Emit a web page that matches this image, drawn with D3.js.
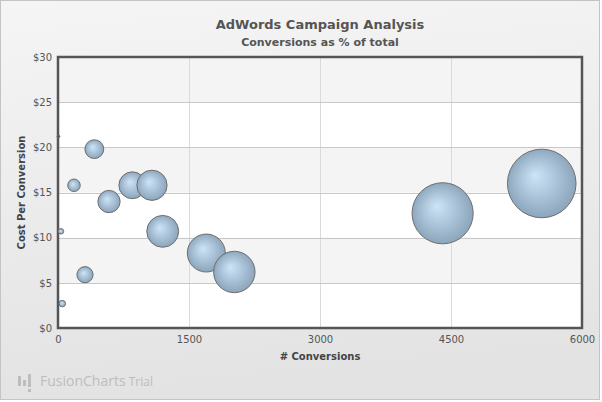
<!DOCTYPE html>
<html>
<head>
<meta charset="utf-8">
<script src="https://cdn.jsdelivr.net/npm/d3@7"></script>
<style>
  body { margin: 0; background: #fff; }
  text { font-family: 'DejaVu Sans', Verdana, sans-serif; }
</style>
</head>
<body>
<script>
// DATA
const conversions = [5, 416, 183, 851, 1076, 584, 34, 1199, 1698, 2019, 309, 49, 4404, 5539];
const costPerConversion = [21.2, 19.8, 15.8, 15.8, 15.8, 14.0, 10.7, 10.7, 8.3, 6.2, 5.9, 2.7, 12.7, 16.0];
const shareOfTotal = [0.05, 2.27, 1.0, 4.63, 5.86, 3.18, 0.19, 6.53, 9.25, 11.0, 1.68, 0.27, 24.0, 30.2];
const xTicks = [0, 1500, 3000, 4500, 6000];
const yTicks = [0, 5, 10, 15, 20, 25, 30];

const svgWidth = 602;
const svgHeight = 402;
const plotLeft = 58;
const plotRight = 582;
const plotTop = 57;
const plotBottom = 328;

const svg = d3
  .select('body')
  .append('svg')
  .attr('width', svgWidth)
  .attr('height', svgHeight);

const defs = svg.append('defs');

const bg = defs
  .append('linearGradient')
  .attr('id', 'bg')
  .attr('x1', 0)
  .attr('y1', 0)
  .attr('x2', 0.15)
  .attr('y2', 1);
bg.append('stop').attr('offset', '0%').attr('stop-color', '#f5f5f5');
bg.append('stop').attr('offset', '100%').attr('stop-color', '#e3e3e3');

const bubbleFill = defs
  .append('radialGradient')
  .attr('id', 'bubble')
  .attr('cx', '50%')
  .attr('cy', '50%')
  .attr('fx', '40%')
  .attr('fy', '38%')
  .attr('r', '55%');
bubbleFill.append('stop').attr('offset', '0%').attr('stop-color', '#cde5f8');
bubbleFill.append('stop').attr('offset', '100%').attr('stop-color', '#86a0b7');

// BACKGROUND
svg
  .append('rect')
  .attr('x', 0.5)
  .attr('y', 0.5)
  .attr('width', svgWidth - 3)
  .attr('height', svgHeight - 3)
  .attr('fill', 'url(#bg)')
  .attr('stroke', '#c4c4c4');

// SCALES
const xScale = d3.scaleLinear().domain([0, 6000]).range([plotLeft, plotRight]);
const yScale = d3.scaleLinear().domain([0, 30]).range([plotBottom, plotTop]);
const rScale = d3.scaleSqrt().domain([0, d3.max(shareOfTotal)]).range([0, 34.3]);

// PLOT BANDS
svg
  .append('rect')
  .attr('x', plotLeft)
  .attr('y', plotTop)
  .attr('width', plotRight - plotLeft)
  .attr('height', plotBottom - plotTop)
  .attr('fill', '#ffffff');

svg
  .selectAll('rect.band')
  .data(yTicks.slice(0, -1).filter((d, i) => i % 2 === 1))
  .enter()
  .append('rect')
  .attr('class', 'band')
  .attr('x', plotLeft)
  .attr('y', d => yScale(d + 5))
  .attr('width', plotRight - plotLeft)
  .attr('height', d => yScale(d) - yScale(d + 5))
  .attr('fill', '#f4f4f4');

// GRID
svg
  .selectAll('line.vgrid')
  .data(xTicks.slice(1, -1))
  .enter()
  .append('line')
  .attr('class', 'vgrid')
  .attr('x1', d => Math.round(xScale(d)) + 0.5)
  .attr('x2', d => Math.round(xScale(d)) + 0.5)
  .attr('y1', plotTop)
  .attr('y2', plotBottom)
  .attr('stroke', '#dadada');

svg
  .selectAll('line.hgrid')
  .data(yTicks.slice(1, -1))
  .enter()
  .append('line')
  .attr('class', 'hgrid')
  .attr('x1', plotLeft)
  .attr('x2', plotRight)
  .attr('y1', d => Math.round(yScale(d)) + 0.5)
  .attr('y2', d => Math.round(yScale(d)) + 0.5)
  .attr('stroke', '#c8c8c8');

// BORDER
svg
  .append('rect')
  .attr('x', plotLeft)
  .attr('y', plotTop)
  .attr('width', plotRight - plotLeft)
  .attr('height', plotBottom - plotTop)
  .attr('fill', 'none')
  .attr('stroke', '#555555')
  .attr('stroke-width', 2.5);

// AXES
const xAxis = d3
  .axisBottom(xScale)
  .tickValues(xTicks)
  .tickSize(0)
  .tickPadding(6)
  .tickFormat(d3.format('d'));

const gx = svg
  .append('g')
  .attr('transform', `translate(0, ${plotBottom + 2})`)
  .call(xAxis);
gx.select('.domain').remove();
gx.selectAll('text')
  .attr('fill', '#555')
  .style('font-size', '10px')
  .style('font-family', "'DejaVu Sans', Verdana, sans-serif");

const yAxis = d3
  .axisLeft(yScale)
  .tickValues(yTicks)
  .tickSize(0)
  .tickPadding(6)
  .tickFormat(d => `$${d}`);

const gy = svg
  .append('g')
  .attr('transform', `translate(${plotLeft}, 0)`)
  .call(yAxis);
gy.select('.domain').remove();
gy.selectAll('text')
  .attr('fill', '#555')
  .style('font-size', '10px')
  .style('font-family', "'DejaVu Sans', Verdana, sans-serif");

// BUBBLES
svg
  .selectAll('circle.bubble')
  .data(conversions)
  .enter()
  .append('circle')
  .attr('class', 'bubble')
  .attr('cx', d => xScale(d))
  .attr('cy', (d, i) => yScale(costPerConversion[i]))
  .attr('r', (d, i) => Math.max(1.3, rScale(shareOfTotal[i])))
  .attr('fill', (d, i) => (rScale(shareOfTotal[i]) < 2 ? '#555' : 'url(#bubble)'))
  .attr('stroke', '#6e6e6e')
  .attr('stroke-width', 1);

// TITLES
const midX = (plotLeft + plotRight) / 2;

svg
  .append('text')
  .attr('x', midX)
  .attr('y', 29)
  .attr('text-anchor', 'middle')
  .attr('fill', '#555')
  .style('font-size', '13px')
  .style('font-weight', 'bold')
  .text('AdWords Campaign Analysis');

svg
  .append('text')
  .attr('x', midX)
  .attr('y', 46)
  .attr('text-anchor', 'middle')
  .attr('fill', '#555')
  .style('font-size', '11px')
  .style('font-weight', 'bold')
  .text('Conversions as % of total');

svg
  .append('text')
  .attr('x', midX)
  .attr('y', 360)
  .attr('text-anchor', 'middle')
  .attr('fill', '#444')
  .style('font-size', '10px')
  .style('font-weight', 'bold')
  .text('# Conversions');

svg
  .append('text')
  .attr('transform', `translate(25, ${(plotTop + plotBottom) / 2}) rotate(-90)`)
  .attr('text-anchor', 'middle')
  .attr('fill', '#444')
  .style('font-size', '10px')
  .style('font-weight', 'bold')
  .text('Cost Per Conversion');

// WATERMARK
const mark = svg.append('g').attr('fill', '#bdbdbd');
[[18, 376, 3, 10], [23, 380, 3, 6], [28, 374, 3, 13], [28, 389, 3, 3]].forEach(b => {
  mark
    .append('rect')
    .attr('x', b[0])
    .attr('y', b[1])
    .attr('width', b[2])
    .attr('height', b[3]);
});

mark
  .append('text')
  .attr('x', 40)
  .attr('y', 386)
  .style('font-family', "'Open Sans', 'Noto Sans', sans-serif")
  .style('font-size', '14px')
  .text('FusionCharts')
  .append('tspan')
  .style('font-size', '12px')
  .text(' Trial');
</script>
</body>
</html>
